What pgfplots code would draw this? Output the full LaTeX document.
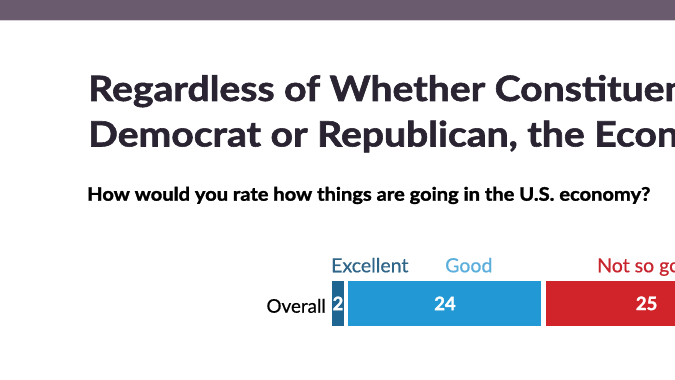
\documentclass[border=0pt]{standalone}
\usepackage{fontspec}
\setmainfont{Lato}
\newfontfamily\heavyfont{Lato}[BoldFeatures={FakeBold=1.6}]
\newfontfamily\semifont{Lato}[UprightFeatures={FakeBold=0.6}]
\usepackage{graphicx}
\usepackage{pgfplots}
\pgfplotsset{compat=1.18}
\definecolor{band}{HTML}{6A5C6E}
\definecolor{titlec}{HTML}{2A2331}
\definecolor{exc}{HTML}{1F6592}
\definecolor{excl}{HTML}{2F6589}
\definecolor{good}{HTML}{2299D5}
\definecolor{goodl}{HTML}{5AAEDC}
\definecolor{nsg}{HTML}{D1232A}
\definecolor{nsgl}{HTML}{C9252F}
\begin{document}
\begin{tikzpicture}[x=1pt,y=1pt]
\clip (0,0) rectangle (675,380);
\fill[white] (0,0) rectangle (675,380);
\fill[band] (0,359.5) rectangle (675,380);
\fill[band!30] (0,358.5) rectangle (675,359.5);
% title
\node[anchor=base west,inner sep=0,text=titlec,font=\fontsize{34.9}{40}\heavyfont\bfseries] at (88,279) {\scalebox{1.12}[1]{Regardless of Whether Constituents}};
\node[anchor=base west,inner sep=0,text=titlec,font=\fontsize{34.9}{40}\heavyfont\bfseries] at (88,233.5) {\scalebox{1.12}[1]{Democrat or Republican, the Economy}};
% subtitle
\node[anchor=base west,inner sep=0,text=black,font=\fontsize{18.6}{22}\heavyfont\bfseries] at (87,179.3) {\scalebox{1.08}[1]{How would you rate how things are going in the U.S. economy?}};
% category labels
\node[anchor=base west,inner sep=0,text=excl,font=\fontsize{19.5}{22}\semifont] at (331,107.7) {Excellent};
\node[anchor=base west,inner sep=0,text=goodl,font=\fontsize{19.5}{22}\semifont] at (445,107.7) {Good};
\node[anchor=base west,inner sep=0,text=nsgl,font=\fontsize{19.5}{22}\semifont] at (597,107.7) {Not so good};
\node[anchor=base east,inner sep=0,text=black,font=\fontsize{18.8}{22}\semifont] at (326,67.3) {Overall};
\begin{axis}[
  at={(329.75pt,76.6pt)}, anchor=west,
  scale only axis, width=345.25pt, height=60pt,
  xmin=0, xmax=41.95, ymin=0, ymax=1,
  hide axis,
  xbar stacked, bar width=49.8pt,
]
\addplot[fill=exc, draw=white, line width=4.5pt] coordinates {(2,0.5)};
\addplot[fill=good, draw=white, line width=4.5pt] coordinates {(24,0.5)};
\addplot[fill=nsg, draw=white, line width=4.5pt] coordinates {(25,0.5)};
\end{axis}
\begin{axis}[
  at={(329.75pt,76.6pt)}, anchor=west,
  scale only axis, width=345.25pt, height=60pt,
  xmin=0, xmax=41.95, ymin=0, ymax=1,
  hide axis,
]
\addplot[only marks, mark=none, nodes near coords, point meta=explicit symbolic,
  every node near coord/.append style={anchor=center, text=white, font=\fontsize{18.5}{22}\heavyfont\bfseries, inner sep=0}]
  coordinates {(1,0.5)[2] (14,0.5)[24] (38.5,0.5)[25]};
\end{axis}
\end{tikzpicture}
\end{document}
